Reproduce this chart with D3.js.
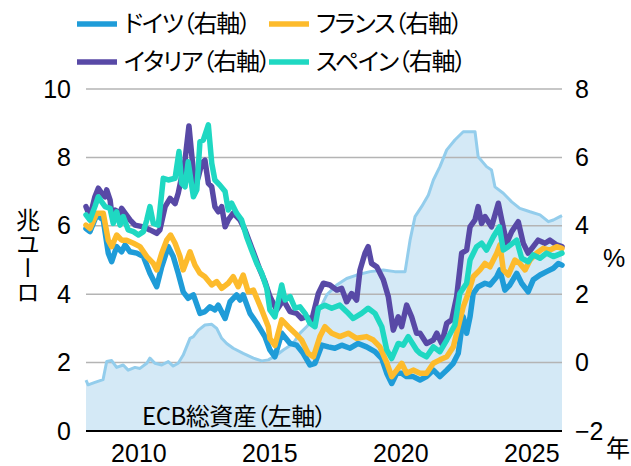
<!DOCTYPE html>
<html>
<head>
<meta charset="utf-8">
<script src="https://cdn.jsdelivr.net/npm/d3@7"></script>
<style>
  body { margin: 0; background: #fff; }
  svg text { font-family: "Liberation Sans", "Noto Sans CJK JP", sans-serif; fill: #000; }
  .jp { font-family: "Noto Sans CJK JP", sans-serif; font-feature-settings: "palt"; }
</style>
</head>
<body>
<div id="chart"></div>
<script>
// ECB total assets, trillion euro (left axis)
var ecbAssets = [
  [2008.00,1.49],[2008.08,1.35],[2008.34,1.42],[2008.65,1.50],[2008.79,2.03],[2008.98,2.06],
  [2009.17,1.86],[2009.42,1.93],[2009.61,1.78],[2009.87,1.86],[2010.06,1.83],[2010.32,1.98],
  [2010.44,2.13],[2010.63,1.98],[2010.89,1.93],[2011.14,2.03],[2011.33,1.90],[2011.52,1.98],
  [2011.71,2.22],[2011.97,2.71],[2012.10,2.76],[2012.29,2.95],[2012.54,3.10],[2012.80,3.12],
  [2012.99,3.00],[2013.18,2.71],[2013.37,2.56],[2013.62,2.42],[2014.00,2.27],[2014.39,2.13],
  [2014.71,2.05],[2014.96,2.08],[2015.28,2.22],[2015.53,2.37],[2015.91,2.56],[2016.17,2.86],
  [2016.42,3.05],[2016.81,3.39],[2017.19,3.98],[2017.57,4.27],[2017.95,4.46],[2018.33,4.56],
  [2018.84,4.66],[2019.35,4.71],[2019.79,4.66],[2020.18,4.66],[2020.37,5.58],[2020.56,6.27],
  [2020.81,6.56],[2021.07,6.90],[2021.26,7.34],[2021.51,7.73],[2021.77,8.22],[2022.08,8.51],
  [2022.40,8.75],[2022.85,8.75],[2022.97,8.02],[2023.29,7.73],[2023.48,7.63],[2023.61,7.14],
  [2023.93,6.95],[2024.25,6.70],[2024.56,6.51],[2024.95,6.41],[2025.33,6.32],[2025.65,6.12],
  [2025.84,6.17],[2026.09,6.27],[2026.17,6.30]
];

// 10-year government bond yields, % (right axis)
var germany = [
  [2008.00,3.92],[2008.15,3.83],[2008.41,4.32],[2008.66,4.17],[2008.85,3.20],[2008.98,2.95],
  [2009.17,3.39],[2009.36,3.24],[2009.49,3.44],[2009.68,3.24],[2009.94,3.20],[2010.19,3.10],
  [2010.44,2.61],[2010.70,2.22],[2010.89,2.80],[2011.14,3.39],[2011.33,3.10],[2011.52,2.61],
  [2011.71,2.07],[2011.90,1.88],[2012.10,1.98],[2012.35,1.44],[2012.54,1.49],[2012.73,1.63],
  [2012.92,1.54],[2013.05,1.68],[2013.31,1.29],[2013.50,1.78],[2013.75,1.98],[2013.88,1.83],
  [2014.00,1.98],[2014.26,1.44],[2014.52,1.15],[2014.83,0.76],[2015.02,0.37],[2015.21,0.17],
  [2015.47,0.86],[2015.79,0.56],[2016.04,0.51],[2016.29,0.27],[2016.55,-0.07],[2016.74,-0.02],
  [2017.00,0.51],[2017.25,0.46],[2017.50,0.42],[2017.76,0.51],[2018.08,0.42],[2018.39,0.56],
  [2018.71,0.46],[2019.03,0.32],[2019.29,0.12],[2019.48,-0.31],[2019.67,-0.61],[2019.86,-0.31],
  [2020.05,-0.31],[2020.24,-0.41],[2020.49,-0.41],[2020.75,-0.51],[2021.00,-0.41],[2021.26,-0.22],
  [2021.51,-0.41],[2021.77,-0.22],[2022.02,-0.02],[2022.21,0.27],[2022.40,1.34],[2022.53,0.86],
  [2022.66,1.34],[2022.78,2.02],[2022.97,2.22],[2023.23,2.32],[2023.42,2.27],[2023.68,2.51],
  [2023.80,2.71],[2023.99,2.12],[2024.18,2.27],[2024.44,2.61],[2024.63,2.32],[2024.88,2.07],
  [2025.07,2.42],[2025.33,2.56],[2025.58,2.66],[2025.84,2.76],[2026.03,2.90],[2026.17,2.85]
];
var france = [
  [2008.00,4.02],[2008.15,3.92],[2008.41,4.37],[2008.66,4.37],[2008.85,3.58],[2008.98,3.39],
  [2009.17,3.73],[2009.36,3.58],[2009.55,3.58],[2009.81,3.49],[2010.06,3.39],[2010.32,3.10],
  [2010.57,2.90],[2010.70,2.71],[2010.89,3.20],[2011.08,3.58],[2011.23,3.73],[2011.40,3.49],
  [2011.59,3.10],[2011.71,2.71],[2011.97,3.24],[2012.16,2.85],[2012.35,2.61],[2012.54,2.51],
  [2012.80,2.27],[2012.99,2.37],[2013.18,2.17],[2013.43,2.32],[2013.62,2.51],[2013.81,2.22],
  [2014.00,2.56],[2014.19,2.07],[2014.39,2.12],[2014.71,1.54],[2014.96,1.05],[2015.02,0.70],
  [2015.21,0.50],[2015.47,1.25],[2015.72,1.05],[2015.98,0.86],[2016.23,0.66],[2016.48,0.27],
  [2016.68,0.17],[2016.93,0.76],[2017.12,1.05],[2017.38,0.86],[2017.69,0.76],[2018.01,0.86],
  [2018.33,0.71],[2018.71,0.76],[2018.97,0.66],[2019.22,0.46],[2019.48,0.00],[2019.67,-0.41],
  [2019.86,-0.22],[2020.05,-0.02],[2020.24,-0.31],[2020.49,-0.22],[2020.75,-0.31],[2021.00,-0.31],
  [2021.26,-0.02],[2021.51,0.08],[2021.77,0.17],[2022.02,0.46],[2022.21,1.05],[2022.40,1.63],
  [2022.59,2.02],[2022.78,2.51],[2023.04,2.71],[2023.23,2.90],[2023.42,2.80],[2023.68,3.20],
  [2023.80,3.44],[2023.93,2.71],[2024.12,2.56],[2024.37,3.00],[2024.56,2.90],[2024.76,2.71],
  [2024.95,3.00],[2025.20,3.20],[2025.45,3.34],[2025.71,3.29],[2025.97,3.39],[2026.17,3.34]
];
var italy = [
  [2008.00,4.56],[2008.15,4.27],[2008.34,4.85],[2008.47,5.10],[2008.60,4.95],[2008.73,4.85],
  [2008.79,5.05],[2008.92,4.75],[2008.98,4.37],[2009.11,4.46],[2009.30,4.37],[2009.36,4.51],
  [2009.49,4.37],[2009.68,4.17],[2009.87,4.02],[2010.19,3.97],[2010.44,3.88],[2010.70,3.78],
  [2010.82,3.88],[2011.02,4.56],[2011.21,4.80],[2011.40,4.65],[2011.52,4.95],[2011.65,5.43],
  [2011.78,5.92],[2011.93,6.92],[2012.03,6.12],[2012.16,5.14],[2012.29,5.43],[2012.42,5.83],
  [2012.54,5.92],[2012.67,5.24],[2012.80,5.14],[2012.92,4.56],[2013.05,4.41],[2013.18,4.56],
  [2013.31,3.97],[2013.43,4.17],[2013.62,4.37],[2013.88,4.17],[2014.07,3.88],[2014.26,3.49],
  [2014.45,3.10],[2014.64,2.71],[2014.83,2.37],[2015.02,1.93],[2015.28,1.54],[2015.53,1.83],
  [2015.79,1.49],[2016.04,1.44],[2016.23,1.29],[2016.42,1.34],[2016.62,1.25],[2016.87,2.02],
  [2017.06,2.32],[2017.31,2.27],[2017.57,2.12],[2017.76,2.17],[2017.95,1.78],[2018.14,2.02],
  [2018.33,1.83],[2018.46,2.71],[2018.65,3.20],[2018.77,3.39],[2018.90,2.90],[2019.10,2.80],
  [2019.35,2.42],[2019.54,1.93],[2019.73,0.95],[2019.92,1.34],[2020.05,1.05],[2020.24,1.68],
  [2020.43,1.34],[2020.62,0.86],[2020.75,0.86],[2021.00,0.56],[2021.26,0.66],[2021.39,0.86],
  [2021.58,0.56],[2021.77,1.15],[2021.96,1.25],[2022.15,1.93],[2022.34,3.20],[2022.53,3.29],
  [2022.66,3.97],[2022.85,4.17],[2022.97,4.56],[2023.10,4.07],[2023.23,4.27],[2023.48,3.97],
  [2023.74,4.66],[2023.87,4.17],[2024.06,3.49],[2024.25,3.83],[2024.50,4.12],[2024.69,3.49],
  [2024.88,3.20],[2025.07,3.39],[2025.26,3.58],[2025.52,3.49],[2025.71,3.58],[2025.97,3.44],
  [2026.17,3.39]
];
var spain = [
  [2008.00,4.32],[2008.15,4.17],[2008.34,4.56],[2008.47,4.85],[2008.60,4.70],[2008.73,4.56],
  [2008.92,4.51],[2009.04,4.07],[2009.17,4.41],[2009.30,4.02],[2009.42,4.27],[2009.61,3.88],
  [2009.81,3.83],[2010.00,3.73],[2010.19,3.83],[2010.32,4.17],[2010.44,4.56],[2010.57,4.07],
  [2010.76,4.02],[2010.89,4.95],[2010.95,5.39],[2011.14,5.34],[2011.40,5.39],[2011.55,6.17],
  [2011.65,5.24],[2011.78,5.14],[2011.90,5.87],[2012.10,4.85],[2012.23,5.05],[2012.35,6.46],
  [2012.48,6.51],[2012.67,6.95],[2012.80,5.83],[2012.92,5.34],[2013.11,5.19],[2013.31,5.00],
  [2013.43,4.46],[2013.56,4.66],[2013.75,4.37],[2013.94,4.17],[2014.13,3.68],[2014.32,3.29],
  [2014.52,2.90],[2014.71,2.61],[2014.90,2.17],[2015.02,1.54],[2015.21,1.34],[2015.47,2.27],
  [2015.60,1.83],[2015.79,1.93],[2015.98,1.59],[2016.17,1.63],[2016.36,1.44],[2016.55,1.15],
  [2016.74,1.05],[2016.87,1.59],[2017.12,1.68],[2017.38,1.59],[2017.69,1.68],[2017.95,1.49],
  [2018.20,1.29],[2018.52,1.44],[2018.77,1.59],[2019.03,1.44],[2019.29,1.05],[2019.48,0.37],
  [2019.67,0.12],[2019.92,0.56],[2020.11,0.51],[2020.30,0.76],[2020.62,0.37],[2020.75,0.27],
  [2021.00,0.17],[2021.26,0.46],[2021.51,0.32],[2021.77,0.66],[2022.08,1.10],[2022.27,2.02],
  [2022.53,2.32],[2022.66,3.00],[2022.91,3.39],[2023.10,3.49],[2023.29,3.29],[2023.55,3.68],
  [2023.78,3.97],[2023.93,3.29],[2024.12,3.39],[2024.44,3.58],[2024.63,3.05],[2024.88,2.95],
  [2025.07,3.15],[2025.33,3.05],[2025.58,3.20],[2025.84,3.10],[2026.17,3.20]
];

var leftTicks = [0, 2, 4, 6, 8, 10];
var rightTicks = [-2, 0, 2, 4, 6, 8];
var yearTicks = [2010, 2015, 2020, 2025];
var seriesNames = ["ドイツ（右軸）", "フランス（右軸）", "イタリア（右軸）", "スペイン（右軸）"];
var seriesColors = ["#1f9cd8", "#fdbb2c", "#5849a6", "#1fd8c2"];

var width = 631, height = 466;
var plot = {left: 86, right: 562, top: 89, bottom: 431};

var svg = d3.select("#chart").append("svg")
  .attr("width", width)
  .attr("height", height);

var x = d3.scaleLinear().domain([2008, 2026.17]).range([plot.left, plot.right]);
var yL = d3.scaleLinear().domain([0, 10]).range([plot.bottom, plot.top]);
var yR = d3.scaleLinear().domain([-2, 8]).range([plot.bottom, plot.top]);

// ECB area
svg.append("path")
  .datum(ecbAssets)
  .attr("fill", "#d4e9f6")
  .attr("d", d3.area()
    .x(function(d) { return x(d[0]) })
    .y0(yL(0))
    .y1(function(d) { return yL(d[1]) }));

// gridlines
svg.append("g")
  .selectAll("line")
  .data(leftTicks.filter(function(t) { return t > 0 }))
  .enter()
  .append("line")
    .attr("x1", plot.left)
    .attr("x2", plot.right)
    .attr("y1", function(t) { return yL(t) })
    .attr("y2", function(t) { return yL(t) })
    .attr("stroke", "#b4b4b4")
    .attr("stroke-width", 1.5);

svg.append("path")
  .datum(ecbAssets)
  .attr("fill", "none")
  .attr("stroke", "#93cdec")
  .attr("stroke-width", 3)
  .attr("stroke-linejoin", "round")
  .attr("d", d3.line()
    .x(function(d) { return x(d[0]) })
    .y(function(d) { return yL(d[1]) }));

// yield lines: draw order germany, italy, france, spain
var lines = [[germany, 0], [italy, 2], [france, 1], [spain, 3]];
var yieldLine = d3.line()
  .x(function(d) { return x(d[0]) })
  .y(function(d) { return yR(d[1]) });

lines.forEach(function(l) {
  svg.append("path")
    .datum(l[0])
    .attr("fill", "none")
    .attr("stroke", seriesColors[l[1]])
    .attr("stroke-width", 5.5)
    .attr("stroke-linejoin", "round")
    .attr("stroke-linecap", "round")
    .attr("d", yieldLine);
});

// baseline
svg.append("line")
  .attr("x1", plot.left)
  .attr("x2", plot.right)
  .attr("y1", yL(0))
  .attr("y2", yL(0))
  .attr("stroke", "#000")
  .attr("stroke-width", 2);

// axes
var axL = svg.append("g")
  .attr("transform", "translate(" + (plot.left - 15) + ",0)")
  .call(d3.axisLeft(yL).tickValues(leftTicks).tickSize(0).tickPadding(0));
var axR = svg.append("g")
  .attr("transform", "translate(" + (plot.right + 13) + ",0)")
  .call(d3.axisRight(yR).tickValues(rightTicks).tickSize(0).tickPadding(0));
var axB = svg.append("g")
  .attr("transform", "translate(0," + (plot.bottom + 12) + ")")
  .call(d3.axisBottom(x).tickValues(yearTicks).tickFormat(d3.format("d")).tickSize(0).tickPadding(0));

[axL, axR, axB].forEach(function(a) {
  a.select(".domain").remove();
  a.selectAll("text")
    .style("font-family", "'Liberation Sans', sans-serif")
    .style("font-size", "25px")
    .attr("fill", "#000");
});
axB.selectAll("text").attr("dy", "0.75em");

// axis titles
svg.append("text")
  .attr("class", "jp")
  .attr("x", 28)
  .attr("y", 256)
  .attr("text-anchor", "middle")
  .style("writing-mode", "vertical-rl")
  .style("text-orientation", "upright")
  .style("font-size", "24px")
  .text("兆ユーロ");

svg.append("text")
  .attr("x", 603)
  .attr("y", 267)
  .style("font-size", "25px")
  .text("%");

svg.append("text")
  .attr("class", "jp")
  .attr("x", 606)
  .attr("y", 457)
  .style("font-size", "24px")
  .text("年");

svg.append("text")
  .attr("class", "jp")
  .attr("x", 142)
  .attr("y", 425)
  .style("font-size", "24px")
  .style("letter-spacing", "-0.5px")
  .text("ECB総資産（左軸）");

// legend
var legendPos = [[77, 24], [269, 24], [77, 62], [269, 62]];
var legend = svg.append("g");
seriesNames.forEach(function(name, i) {
  var p = legendPos[i];
  legend.append("line")
    .attr("x1", p[0]).attr("x2", p[0] + 40)
    .attr("y1", p[1]).attr("y2", p[1])
    .attr("stroke", seriesColors[i])
    .attr("stroke-width", 5.5);
  legend.append("text")
    .attr("class", "jp")
    .attr("x", p[0] + 47)
    .attr("y", p[1])
    .attr("dy", "0.35em")
    .style("font-size", "24px")
    .style("letter-spacing", "-1.2px")
    .text(name);
});
</script>
</body>
</html>
